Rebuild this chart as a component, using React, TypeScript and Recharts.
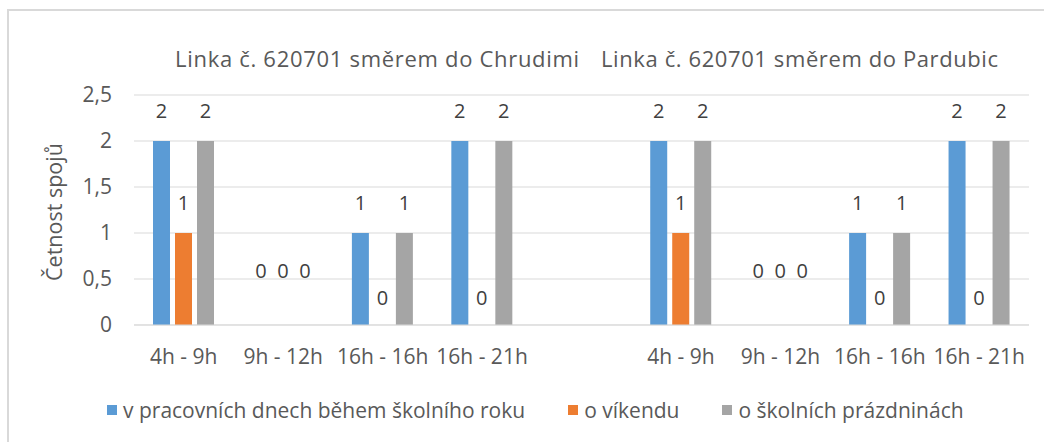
import { BarChart, Bar, XAxis, YAxis, CartesianGrid, LabelList } from 'recharts';

// kategorie (prázdná kategorie odděluje oba směry)
const categories = ['4h - 9h', '9h - 12h', '16h - 16h', '16h - 21h', '', '4h - 9h', '9h - 12h', '16h - 16h', '16h - 21h'];
const workdays = [2, 0, 1, 2, null, 2, 0, 1, 2];
const weekend = [1, 0, 0, 0, null, 1, 0, 0, 0];
const holidays = [2, 0, 1, 2, null, 2, 0, 1, 2];
const yTicks = [0, 0.5, 1, 1.5, 2, 2.5];
const groupTitles = ['Linka č. 620701 směrem do Chrudimi', 'Linka č. 620701 směrem do Pardubic'];

const series = [
  { key: 'workdays', name: 'v pracovních dnech během školního roku', color: '#5b9bd5' },
  { key: 'weekend', name: 'o víkendu', color: '#ed7d31' },
  { key: 'holidays', name: 'o školních prázdninách', color: '#a5a5a5' },
];

const data = categories.map((c, i) => ({
  name: c,
  id: i,
  workdays: workdays[i],
  weekend: weekend[i],
  holidays: holidays[i],
}));

const FONT = '"Open Sans", sans-serif';
const TEXT = '#595959';

// value = celý řádek dat, abychom znali kategorii
const renderLabel = (props: any, key: string) => {
  const { x, y, width, height } = props;
  const row = props.value;
  if (!row || typeof row !== 'object') return null;
  const value = row[key];
  if (value === null || value === undefined) return null;
  // Excel posouvá nulové popisky u 9h - 12h výš
  let off = value === 0 ? 20 : 23;
  if (row.name === '9h - 12h') off = 47;
  const top = value === 0 ? y + (height || 0) : y;
  return (
    <text x={x + width / 2} y={top - off} textAnchor="middle" fill="#404040" fontSize={20} fontFamily={FONT}>
      {value}
    </text>
  );
};

const fmtY = (v: number) => String(v).replace('.', ',');

export default function App() {
  return (
    <div style={{ position: 'absolute', left: 0, top: 0, width: 1044, height: 442, background: '#fff', fontFamily: FONT, overflow: 'hidden' }}>
      <div style={{ position: 'absolute', left: 7, top: 9, width: 1100, height: 500, borderTop: '2px solid #d9d9d9', borderLeft: '2px solid #d9d9d9' }} />

      <div style={{ position: 'absolute', left: 175, top: 43, fontSize: 22, letterSpacing: 0.7, color: TEXT, whiteSpace: 'nowrap' }}>{groupTitles[0]}</div>
      <div style={{ position: 'absolute', left: 601, top: 43, fontSize: 22, letterSpacing: 0.6, color: TEXT, whiteSpace: 'nowrap' }}>{groupTitles[1]}</div>

      <div style={{ position: 'absolute', left: 0, top: 0 }}>
        <BarChart
          width={1044}
          height={442}
          data={data}
          margin={{ top: 95, right: 15, left: 0, bottom: 87 }}
          barSize={17}
          barGap={5}
        >
          <CartesianGrid vertical={false} stroke="#d9d9d9" />
          <XAxis
            dataKey="id"
            tickFormatter={(v: number) => categories[v]}
            interval={0}
            axisLine={{ stroke: '#d9d9d9' }}
            tickLine={false}
            tickSize={0}
            tickMargin={24}
            height={30}
            tick={{ fill: TEXT, fontSize: 21, fontFamily: FONT }}
          />
          <YAxis
            domain={[0, 2.5]}
            ticks={yTicks}
            tickFormatter={fmtY}
            axisLine={false}
            tickLine={false}
            tickSize={0}
            tickMargin={22}
            width={134}
            tick={{ fill: TEXT, fontSize: 21, fontFamily: FONT }}
            label={(p: any) => {
              const vb = p.viewBox || {};
              const cy = vb.y + vb.height / 2 + 2;
              return (
                <text x={62} y={cy} transform={`rotate(-90 62 ${cy})`} textAnchor="middle" fill={TEXT} fontSize={21.5} fontFamily={FONT}>
                  Četnost spojů
                </text>
              );
            }}
          />
          {series.map((s) => (
            <Bar key={s.key} dataKey={s.key} name={s.name} fill={s.color} minPointSize={0.01} isAnimationActive={false}>
              <LabelList dataKey={(d: any) => d} content={(p: any) => renderLabel(p, s.key)} />
            </Bar>
          ))}
        </BarChart>
      </div>

      <div style={{ position: 'absolute', left: 107, top: 396, display: 'flex', alignItems: 'center', fontSize: 21, color: TEXT, whiteSpace: 'nowrap' }}>
        {series.map((s, i) => (
          <div key={s.key} style={{ display: 'flex', alignItems: 'center', marginRight: i < series.length - 1 ? 43 : 0 }}>
            <span style={{ display: 'inline-block', width: 10, height: 10, background: s.color, marginRight: 6 }} />
            <span>{s.name}</span>
          </div>
        ))}
      </div>
    </div>
  );
}
